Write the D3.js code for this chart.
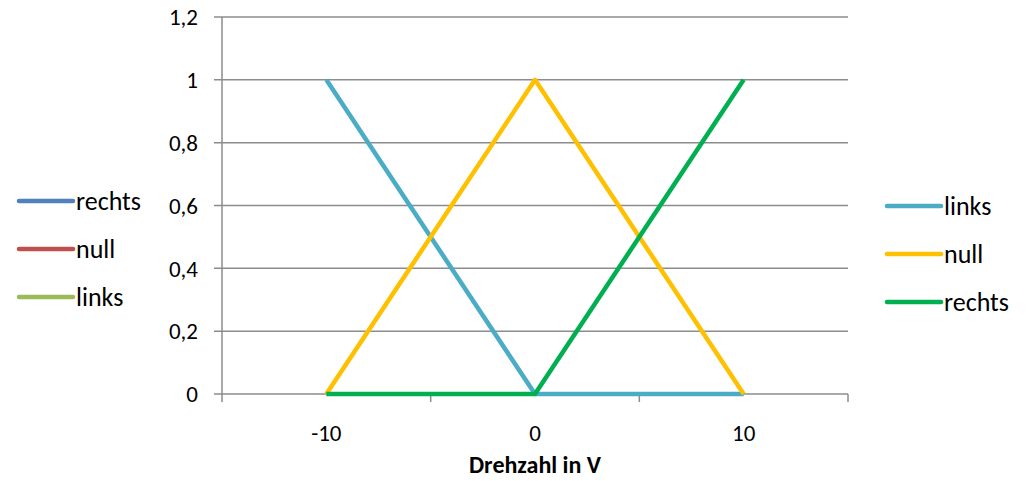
<!DOCTYPE html>
<html>
<head>
<meta charset="utf-8">
<script src="https://cdn.jsdelivr.net/npm/d3@7"></script>
<style>
  html, body { margin: 0; padding: 0; background: #fff; }
  svg { display: block; font-family: Carlito, Lato, "Open Sans", sans-serif; }
</style>
</head>
<body>
<svg id="chart" width="1028" height="481"></svg>
<script>
// Membership functions for the speed input (Drehzahl in V)
const xValues = [-10, 0, 10];
const linksValues = [1, 0, 0];
const nullValues = [0, 1, 0];
const rechtsValues = [0, 0, 1];

const seriesNames = ["links", "null", "rechts"];
const seriesColors = ["#4BACC6", "#FFC000", "#00B050"];

// Secondary legend (series without plotted data)
const legendLeftNames = ["rechts", "null", "links"];
const legendLeftColors = ["#4F81BD", "#C0504D", "#9BBB59"];

const yTicks = [0, 0.2, 0.4, 0.6, 0.8, 1, 1.2];
const xLabelTicks = [-10, 0, 10];
const xMarkTicks = [-15, -5, 5, 15];
const xTitle = "Drehzahl in V";

(function draw() {
  const svg = d3.select("#chart");
  const plotLeft = 222, plotRight = 848, plotTop = 17, plotBottom = 394;

  const x = d3.scaleLinear().domain([-15, 15]).range([plotLeft, plotRight]);
  const y = d3.scaleLinear().domain([0, 1.2]).range([plotBottom, plotTop]);

  const fmt = d => String(d).replace(".", ",");
  const gridColor = "#8C8C8C";

  // Horizontal gridlines with short outer ticks
  svg.append("g").selectAll("line").data(yTicks).join("line")
    .attr("x1", plotLeft - 8).attr("x2", plotRight)
    .attr("y1", d => y(d)).attr("y2", d => y(d))
    .attr("stroke", gridColor).attr("stroke-width", 1.5);

  // Y axis line
  svg.append("line")
    .attr("x1", plotLeft).attr("x2", plotLeft).attr("y1", plotTop).attr("y2", plotBottom)
    .attr("stroke", gridColor).attr("stroke-width", 1.5);

  // Y tick labels
  svg.append("g").selectAll("text").data(yTicks).join("text")
    .attr("x", plotLeft - 24).attr("y", d => y(d))
    .attr("dy", "0.36em").attr("text-anchor", "end")
    .attr("font-size", 23).attr("fill", "#000")
    .text(fmt);

  // X tick marks (below the axis)
  svg.append("g").selectAll("line").data(xMarkTicks).join("line")
    .attr("x1", d => x(d)).attr("x2", d => x(d))
    .attr("y1", plotBottom).attr("y2", plotBottom + 8)
    .attr("stroke", gridColor).attr("stroke-width", 1.5);

  // X tick labels
  svg.append("g").selectAll("text").data(xLabelTicks).join("text")
    .attr("x", d => x(d)).attr("y", 441)
    .attr("text-anchor", "middle")
    .attr("font-size", 23).attr("fill", "#000")
    .text(d => String(d));

  // X axis title
  svg.append("text")
    .attr("x", x(0)).attr("y", 473)
    .attr("text-anchor", "middle")
    .attr("font-size", 24).attr("font-weight", "bold").attr("fill", "#000")
    .text(xTitle);

  // Series lines
  const seriesData = [linksValues, nullValues, rechtsValues];
  const line = d3.line().x((d, i) => x(xValues[i])).y(d => y(d));
  seriesData.forEach((vals, i) => {
    svg.append("path")
      .datum(vals)
      .attr("d", line)
      .attr("fill", "none")
      .attr("stroke", seriesColors[i])
      .attr("stroke-width", 4.5)
      .attr("stroke-linejoin", "round");
  });

  // Legends
  function drawLegend(names, colors, x0, y0, step) {
    const g = svg.append("g");
    names.forEach((n, i) => {
      const yy = y0 + i * step;
      g.append("line")
        .attr("x1", x0).attr("x2", x0 + 54)
        .attr("y1", yy).attr("y2", yy)
        .attr("stroke", colors[i]).attr("stroke-width", 4.5)
        .attr("stroke-linecap", "round");
      g.append("text")
        .attr("x", x0 + 57).attr("y", yy)
        .attr("dy", "0.34em")
        .attr("font-size", 26).attr("fill", "#000")
        .text(n);
    });
  }
  drawLegend(legendLeftNames, legendLeftColors, 19, 201, 48);
  drawLegend(seriesNames, seriesColors, 887, 206, 48);
})();
</script>
</body>
</html>
